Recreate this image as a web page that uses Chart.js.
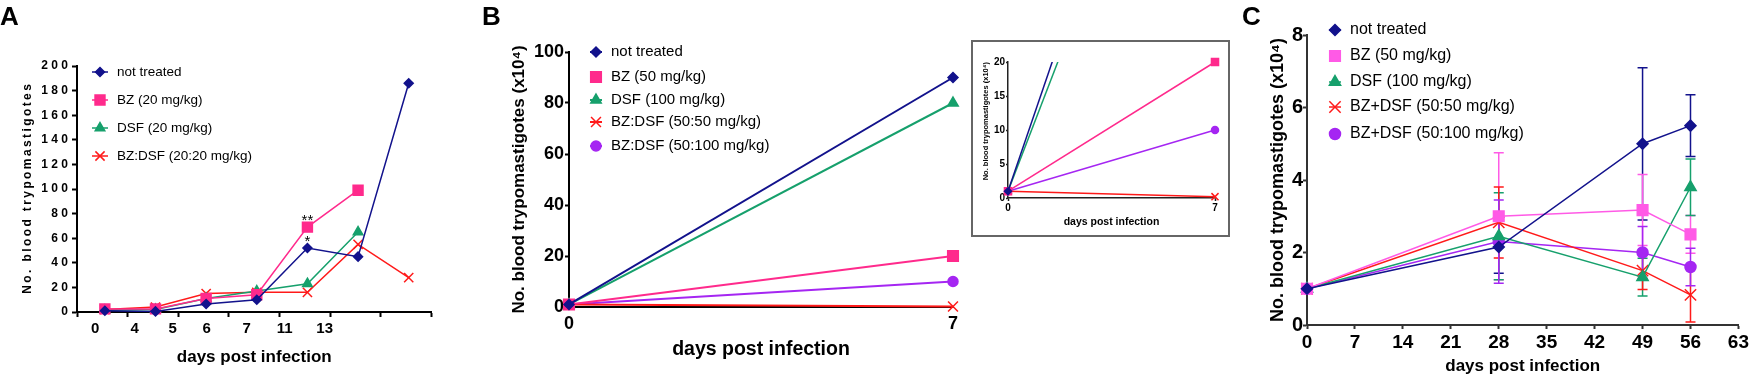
<!DOCTYPE html>
<html>
<head>
<meta charset="utf-8">
<title>Blood trypomastigotes</title>
<script src="https://cdn.jsdelivr.net/npm/chart.js"></script>
<style>
  body { margin: 0; width: 1751px; height: 377px; position: relative; overflow: hidden; background: #fff; font-family: "Liberation Sans", Arial, sans-serif; }
  canvas { position: absolute; }
  .tag { position: absolute; top: 3px; font-size: 26px; font-weight: bold; line-height: 1; }
  #inset-box { position: absolute; left: 971px; top: 40px; width: 259px; height: 197px; border: 2px solid #666; box-sizing: border-box; }
</style>
</head>
<body>
<canvas id="chart-a" width="440" height="377" style="left:0;top:0"></canvas>
<canvas id="chart-b" width="530" height="377" style="left:440px;top:0"></canvas>
<div id="inset-box"></div>
<canvas id="chart-inset" width="255" height="193" style="left:973px;top:42px"></canvas>
<canvas id="chart-c" width="511" height="377" style="left:1240px;top:0"></canvas>
<div class="tag" style="left:0">A</div>
<div class="tag" style="left:482px">B</div>
<div class="tag" style="left:1242px">C</div>
<script>
// panel A (20 mg/kg)
const aDays = ['0', '4', '5', '6', '7', '11', '13'];
const aNotTreated = [1, 0.5, 6.5, 10, 52, 45, 186];
const aBZ = [2.5, 2.5, 11, 14, 69, 99];
const aDSF = [1.5, 2, 11, 17, 23, 65];
const aBZDSF = [2, 4, 15, 16, 16, 55, 28];
const aStars = [{series: 1, index: 4, text: '**'}, {series: 0, index: 4, text: '*'}];

// panel B and its inset
const bDays = [0, 7];
const bNotTreated = [1, 90];
const bBZ = [1, 20];
const bDSF = [1, 80];
const bBZDSF50 = [1, 0.2];
const bBZDSF100 = [1, 10];

// panel C (mean +/- error)
const cDays = [0, 28, 49, 56];
const cNotTreated = [1, 2.15, 5.0, 5.5];
const cNotTreatedErr = [0, 0.72, 2.1, 0.85];
const cBZ = [1, 3.0, 3.17, 2.5];
const cBZErr = [0, 1.75, 0.98, 0.52];
const cDSF = [1, 2.45, 1.32, 3.8];
const cDSFErr = [0, 1.2, 0.52, 0.78];
const cBZDSF50 = [1, 2.83, 1.5, 0.83];
const cBZDSF50Err = [0, 0.98, 0.52, 0.75];
const cBZDSF100 = [1, 2.3, 2.0, 1.6];
const cBZDSF100Err = [0, 1.15, 0.72, 0.52];

const NAVY = '#12128c', PINK = '#ff2a8c', GREEN = '#16a06c', RED = '#ff1a1a', PURPLE = '#a526f2', PINK_C = '#ff5ae6';
const FONT = '"Liberation Sans", Arial, sans-serif';

Chart.defaults.font.family = FONT;
Chart.defaults.color = '#000';
Chart.defaults.animation = false;

// layout of panel A's odd x axis (labels squeezed to the left of the ticks)
const A_SHIFT = 0.55;
const A_TICK_AT = [0, 1, 2, 3, 4, 5, 6, 7];
const A_LABEL_AT = [0.36, 1.14, 1.89, 2.56, 3.35, 4.1, 4.89];

function pts(xs, ys) {
    return ys.map((v, i) => ({x: xs[i], y: v}));
}

function series(label, data, color, style, radius, width, extra) {
    return Object.assign({
        label: label,
        data: data,
        borderColor: color,
        backgroundColor: color,
        pointBackgroundColor: color,
        pointBorderColor: color,
        pointStyle: style,
        pointRadius: radius,
        pointHoverRadius: radius,
        pointBorderWidth: 1.5,
        borderWidth: width,
        tension: 0,
        clip: false
    }, extra || {});
}

function spaced(s, sep) {
    return s.split('').join(sep);
}

const sideLegend = {
    id: 'sideLegend',
    afterDraw(chart, args, opts) {
        const ctx = chart.ctx;
        ctx.save();
        ctx.font = opts.font;
        ctx.textBaseline = 'middle';
        chart.data.datasets.forEach((ds, i) => {
            const y = opts.rows[i];
            ctx.strokeStyle = ds.borderColor;
            ctx.fillStyle = ds.borderColor;
            ctx.lineWidth = ds.borderWidth;
            ctx.beginPath();
            ctx.moveTo(opts.x - opts.line / 2, y);
            ctx.lineTo(opts.x + opts.line / 2, y);
            ctx.stroke();
            ctx.lineWidth = ds.pointBorderWidth;
            Chart.helpers.drawPoint(ctx, {pointStyle: ds.pointStyle, radius: ds.pointRadius, borderWidth: ds.pointBorderWidth, rotation: 0}, opts.x, y);
            ctx.fillStyle = '#000';
            ctx.fillText(ds.label, opts.textX, y);
        });
        ctx.restore();
    }
};

const stars = {
    id: 'stars',
    afterDatasetsDraw(chart) {
        const ctx = chart.ctx;
        ctx.save();
        ctx.font = '15px ' + FONT;
        ctx.fillStyle = '#000';
        ctx.textAlign = 'center';
        ctx.textBaseline = 'alphabetic';
        aStars.forEach(s => {
            const pt = chart.getDatasetMeta(s.series).data[s.index];
            ctx.fillText(s.text, pt.x, pt.y - 2);
        });
        ctx.restore();
    }
};

const errorBars = {
    id: 'errorBars',
    beforeDatasetsDraw(chart) {
        const ctx = chart.ctx;
        const xs = chart.scales.x, ys = chart.scales.y;
        ctx.save();
        ctx.lineWidth = 1.5;
        chart.data.datasets.forEach(ds => {
            ctx.strokeStyle = ds.borderColor;
            ds.data.forEach((p, i) => {
                const e = ds.errors[i];
                if (!e) return;
                const x = xs.getPixelForValue(p.x);
                const y1 = ys.getPixelForValue(p.y + e);
                const y2 = ys.getPixelForValue(p.y - e);
                ctx.beginPath();
                ctx.moveTo(x, y1); ctx.lineTo(x, y2);
                ctx.moveTo(x - 5, y1); ctx.lineTo(x + 5, y1);
                ctx.moveTo(x - 5, y2); ctx.lineTo(x + 5, y2);
                ctx.stroke();
            });
        });
        ctx.restore();
    }
};

// ---------- panel A ----------
const aX = aNotTreated.map((v, i) => i + A_SHIFT);
new Chart(document.getElementById('chart-a'), {
    type: 'line',
    data: {
        datasets: [
            series('not treated', pts(aX, aNotTreated), NAVY, 'rectRot', 4.5, 1.5),
            series('BZ (20 mg/kg)', pts(aX, aBZ), PINK, 'rect', 7, 1.5),
            series('DSF (20 mg/kg)', pts(aX, aDSF), GREEN, 'triangle', 5.5, 1.5),
            series('BZ:DSF (20:20 mg/kg)', pts(aX, aBZDSF), RED, 'crossRot', 6.5, 1.5)
        ]
    },
    options: {
        responsive: false,
        layout: {padding: {left: 0, top: 66, right: 8, bottom: 0}},
        plugins: {
            legend: {display: false},
            tooltip: {enabled: false},
            sideLegend: {x: 100, textX: 117, line: 16, rows: [72, 100, 128, 156], font: '13.5px ' + FONT}
        },
        scales: {
            x: {
                type: 'linear', min: 0, max: 7,
                afterBuildTicks: ax => {
                    ax.ticks = A_TICK_AT.concat(A_LABEL_AT).sort((p, q) => p - q).map(v => ({value: v}));
                },
                afterFit: ax => { ax.height = 65; },
                ticks: {
                    autoSkip: false, maxRotation: 0, padding: 3,
                    font: {size: 15, weight: 'bold'},
                    callback: v => {
                        const k = A_LABEL_AT.indexOf(v);
                        return k >= 0 ? aDays[k] : '';
                    }
                },
                grid: {
                    drawOnChartArea: false, tickLength: 5, tickWidth: 2,
                    tickColor: c => Number.isInteger(c.tick.value) ? '#000' : 'rgba(0,0,0,0)'
                },
                border: {color: '#000', width: 2},
                title: {display: true, text: 'days post infection', font: {size: 17, weight: 'bold'}, padding: {top: 0, bottom: 9.8}}
            },
            y: {
                min: 0, max: 200,
                afterFit: ax => { ax.width = 77; },
                ticks: {stepSize: 20, padding: 4, font: {size: 12, weight: 'bold'}, callback: v => spaced(String(v), ' ')},
                grid: {drawOnChartArea: false, tickLength: 5, tickWidth: 2, tickColor: '#000'},
                border: {color: '#000', width: 2},
                title: {display: true, text: spaced('No. blood trypomastigotes', '\u2009'), font: {size: 12, weight: 'bold'}, padding: {top: 20, bottom: 0}}
            }
        }
    },
    plugins: [sideLegend, stars]
});

// ---------- panel B ----------
new Chart(document.getElementById('chart-b'), {
    type: 'line',
    data: {
        datasets: [
            series('not treated', pts(bDays, bNotTreated), NAVY, 'rectRot', 5, 2),
            series('BZ (50 mg/kg)', pts(bDays, bBZ), PINK, 'rect', 7.5, 2),
            series('DSF (100 mg/kg)', pts(bDays, bDSF), GREEN, 'triangle', 6, 2),
            series('BZ:DSF (50:50 mg/kg)', pts(bDays, bBZDSF50), RED, 'crossRot', 7, 2),
            series('BZ:DSF (50:100 mg/kg)', pts(bDays, bBZDSF100), PURPLE, 'circle', 5, 2)
        ]
    },
    options: {
        responsive: false,
        layout: {padding: {left: 0, top: 52, right: 17, bottom: 0}},
        plugins: {
            legend: {display: false},
            tooltip: {enabled: false},
            sideLegend: {x: 156, textX: 171, line: 12, rows: [52, 77, 100, 122, 146], font: '15px ' + FONT}
        },
        scales: {
            x: {
                type: 'linear', min: 0, max: 7,
                afterFit: ax => { ax.height = 70; },
                ticks: {stepSize: 7, autoSkip: false, maxRotation: 0, padding: 6, font: {size: 18, weight: 'bold'}},
                grid: {drawOnChartArea: false, drawTicks: false},
                border: {color: '#000', width: 2},
                title: {display: true, text: 'days post infection', font: {size: 19.5, weight: 'bold'}, padding: {top: 0, bottom: 15.3}}
            },
            y: {
                min: 0, max: 100,
                afterFit: ax => { ax.width = 129; },
                ticks: {stepSize: 20, padding: 1, font: {size: 18, weight: 'bold'}},
                grid: {drawOnChartArea: false, tickLength: 4, tickWidth: 2, tickColor: '#000'},
                border: {color: '#000', width: 2},
                title: {display: true, text: 'No. blood trypomastigotes (x10⁴)', font: {size: 17, weight: 'bold'}, padding: {top: 69, bottom: 0}}
            }
        }
    },
    plugins: [sideLegend]
});

// ---------- inset of B ----------
const topClip = {left: 8, right: 8, top: 0, bottom: 8};
new Chart(document.getElementById('chart-inset'), {
    type: 'line',
    data: {
        datasets: [
            series('not treated', pts(bDays, bNotTreated), NAVY, 'rectRot', 3.5, 1.5, {clip: topClip}),
            series('BZ (50 mg/kg)', pts(bDays, bBZ), PINK, 'rect', 5, 1.5, {clip: 8}),
            series('DSF (100 mg/kg)', pts(bDays, bDSF), GREEN, 'triangle', 3.5, 1.5, {clip: topClip}),
            series('BZ:DSF (50:50 mg/kg)', pts(bDays, bBZDSF50), RED, 'crossRot', 5, 1.5, {clip: 8}),
            series('BZ:DSF (50:100 mg/kg)', pts(bDays, bBZDSF100), PURPLE, 'circle', 3.5, 1.5, {clip: 8})
        ]
    },
    options: {
        responsive: false,
        layout: {padding: {left: 0, top: 20, right: 13, bottom: 0}},
        plugins: {legend: {display: false}, tooltip: {enabled: false}},
        scales: {
            x: {
                type: 'linear', min: 0, max: 7,
                afterFit: ax => { ax.height = 37; },
                ticks: {stepSize: 7, autoSkip: false, maxRotation: 0, padding: 1, font: {size: 10, weight: 'bold'}},
                grid: {drawOnChartArea: false, tickLength: 3, tickWidth: 1.5, tickColor: '#222'},
                border: {color: '#222', width: 1.5},
                title: {display: true, text: 'days post infection', font: {size: 10.5, weight: 'bold'}, padding: {top: 0, bottom: 6.7}}
            },
            y: {
                min: 0, max: 20,
                afterFit: ax => { ax.width = 35; },
                ticks: {stepSize: 5, padding: 1, font: {size: 10, weight: 'bold'}},
                grid: {drawOnChartArea: false, tickLength: 2, tickWidth: 1.5, tickColor: '#222'},
                border: {color: '#222', width: 1.5},
                title: {display: true, text: 'No. blood trypomastigotes (x10⁴)', align: 'end', font: {size: 7.5, weight: 'bold'}, padding: {top: 8.5, bottom: 0}}
            }
        }
    }
});

// ---------- panel C ----------
new Chart(document.getElementById('chart-c'), {
    type: 'line',
    data: {
        datasets: [
            series('not treated', pts(cDays, cNotTreated), NAVY, 'rectRot', 5.5, 1.5, {errors: cNotTreatedErr}),
            series('BZ (50 mg/kg)', pts(cDays, cBZ), PINK_C, 'rect', 7.5, 1.5, {errors: cBZErr}),
            series('DSF (100 mg/kg)', pts(cDays, cDSF), GREEN, 'triangle', 6.5, 1.5, {errors: cDSFErr}),
            series('BZ+DSF (50:50 mg/kg)', pts(cDays, cBZDSF50), RED, 'crossRot', 8, 1.5, {errors: cBZDSF50Err}),
            series('BZ+DSF (50:100 mg/kg)', pts(cDays, cBZDSF100), PURPLE, 'circle', 5.5, 1.5, {errors: cBZDSF100Err})
        ]
    },
    options: {
        responsive: false,
        layout: {padding: {left: 0, top: 35, right: 10, bottom: 0}},
        plugins: {
            legend: {display: false},
            tooltip: {enabled: false},
            sideLegend: {x: 95, textX: 110, line: 12, rows: [30, 56, 82, 107, 134], font: '16px ' + FONT}
        },
        scales: {
            x: {
                type: 'linear', min: 0, max: 63,
                afterFit: ax => { ax.height = 52; },
                ticks: {stepSize: 7, autoSkip: false, maxRotation: 0, padding: 2, font: {size: 19, weight: 'bold'}},
                grid: {drawOnChartArea: false, tickLength: 4, tickWidth: 2, tickColor: '#333'},
                border: {color: '#333', width: 2},
                title: {display: true, text: 'days post infection', font: {size: 17, weight: 'bold'}, padding: {top: 0, bottom: 0}}
            },
            y: {
                min: 0, max: 8,
                afterFit: ax => { ax.width = 67; },
                ticks: {stepSize: 2, padding: 0, font: {size: 20, weight: 'bold'}},
                grid: {drawOnChartArea: false, tickLength: 4, tickWidth: 2, tickColor: '#333'},
                border: {color: '#333', width: 2},
                title: {display: true, text: 'No. blood trypomastigotes (x10⁴)', font: {size: 18, weight: 'bold'}, padding: {top: 27, bottom: 0}}
            }
        }
    },
    plugins: [errorBars, sideLegend]
});
</script>
</body>
</html>
